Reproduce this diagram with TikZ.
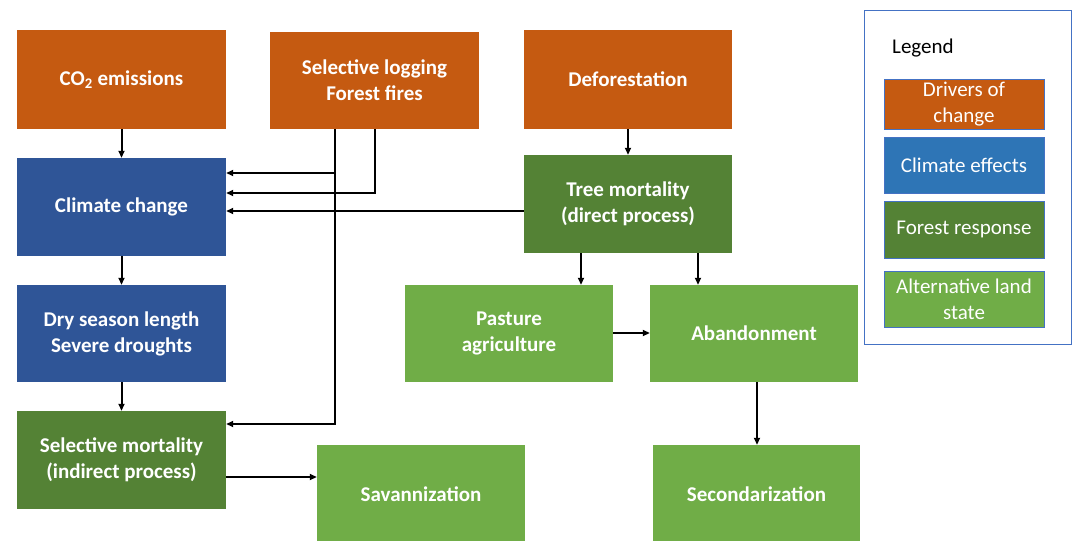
\documentclass[tikz,border=0pt]{standalone}
\usepackage{fontspec}
\setmainfont{Carlito}
\usetikzlibrary{arrows.meta,calc}
\definecolor{cOrange}{HTML}{C55A11}
\definecolor{cBlue}{HTML}{2F5597}
\definecolor{cLBlue}{HTML}{2E75B6}
\definecolor{cDGreen}{HTML}{548235}
\definecolor{cLGreen}{HTML}{70AD47}
\definecolor{cEdge}{HTML}{4472C4}
\tikzset{
  box/.style={draw=none, text=white, align=center, inner sep=0pt,
    font=\bfseries\fontsize{21}{26}\selectfont},
  bigbox/.style={box, minimum width=209pt, minimum height=98pt},
  legitem/.style={draw=cEdge, line width=0.8pt, text=white, align=center, inner sep=0pt,
    minimum width=160pt, font=\fontsize{21}{26}\selectfont},
  arr/.style={line width=2pt, -{Triangle[length=7pt,width=6pt]}},
}
\begin{document}
\begin{tikzpicture}[x=1pt,y=-1pt]
\useasboundingbox (0,0) rectangle (1074,541);
% drivers
\node[bigbox, fill=cOrange, minimum height=99pt] (co2) at (121.5,79.5) {CO\textsubscript{2} emissions};
\node[bigbox, fill=cOrange, minimum height=97pt] (logging) at (374.5,80.5) {Selective logging\\Forest fires};
\node[bigbox, fill=cOrange, minimum width=208pt, minimum height=99pt] (defor) at (628,79.5) {Deforestation};
% climate
\node[bigbox, fill=cBlue] (climate) at (121.5,207) {Climate change};
\node[bigbox, fill=cBlue, minimum height=97pt] (dry) at (121.5,333.5) {Dry season length\\Severe droughts};
% forest response
\node[bigbox, fill=cDGreen, minimum width=208pt] (tree) at (628,204) {Tree mortality\\(direct process)};
\node[bigbox, fill=cDGreen] (selmort) at (121.5,460) {Selective mortality\\(indirect process)};
% alternative land states
\node[bigbox, fill=cLGreen, minimum width=208pt, minimum height=97pt] (pasture) at (509,333.5) {Pasture\\agriculture};
\node[bigbox, fill=cLGreen, minimum width=208pt, minimum height=97pt] (aband) at (754,333.5) {Abandonment};
\node[bigbox, fill=cLGreen, minimum width=208pt] (savann) at (421,494) {Savannization};
\node[bigbox, fill=cLGreen, minimum width=207pt] (second) at (756.5,494) {Secondarization};
% helper coordinates
\coordinate (xa) at (335,0);
\coordinate (xb) at (375,0);
\coordinate (xc) at (581,0);
\coordinate (xd) at (698,0);
\coordinate (ya) at (0,424);
\coordinate (yb) at (0,173);
\coordinate (yc) at (0,193);
\coordinate (yd) at (0,211);
\coordinate (ye) at (0,333);
\coordinate (yf) at (0,477);
\coordinate (xe) at (757,0);
% connectors
\draw[arr] (co2.south) -- (climate.north);
\draw[arr] (climate.south) -- (dry.north);
\draw[arr] (dry.south) -- (selmort.north);
\draw[arr] (logging.south -| xa) |- (selmort.east |- ya);
\draw[arr] (xa |- yb) -- (climate.east |- yb);
\draw[arr] (logging.south -| xb) |- (climate.east |- yc);
\draw[arr] (tree.west |- yd) -- (climate.east |- yd);
\draw[arr] (defor.south) -- (tree.north);
\draw[arr] (tree.south -| xc) -- (pasture.north -| xc);
\draw[arr] (tree.south -| xd) -- (aband.north -| xd);
\draw[arr] (pasture.east |- ye) -- (aband.west |- ye);
\draw[arr] (selmort.east |- yf) -- (savann.west |- yf);
\draw[arr] (aband.south -| xe) -- (second.north -| xe);
% legend
\node[draw=cEdge, line width=1pt, minimum width=207pt, minimum height=334pt, inner sep=0pt] (legend) at (967.5,177) {};
\node[anchor=west, inner sep=0pt, font=\fontsize{21}{26}\selectfont] (legtitle) at (892,48) {Legend};
\node[legitem, fill=cOrange, minimum height=50pt] (l1) at (964,104) {Drivers of\\change};
\node[legitem, fill=cLBlue, minimum height=56pt] (l2) at (964,165) {Climate effects};
\node[legitem, fill=cDGreen, minimum height=57pt] (l3) at (964,229.5) {Forest response};
\node[legitem, fill=cLGreen, minimum height=56pt] (l4) at (964,299) {Alternative land\\state};
\end{tikzpicture}
\end{document}
